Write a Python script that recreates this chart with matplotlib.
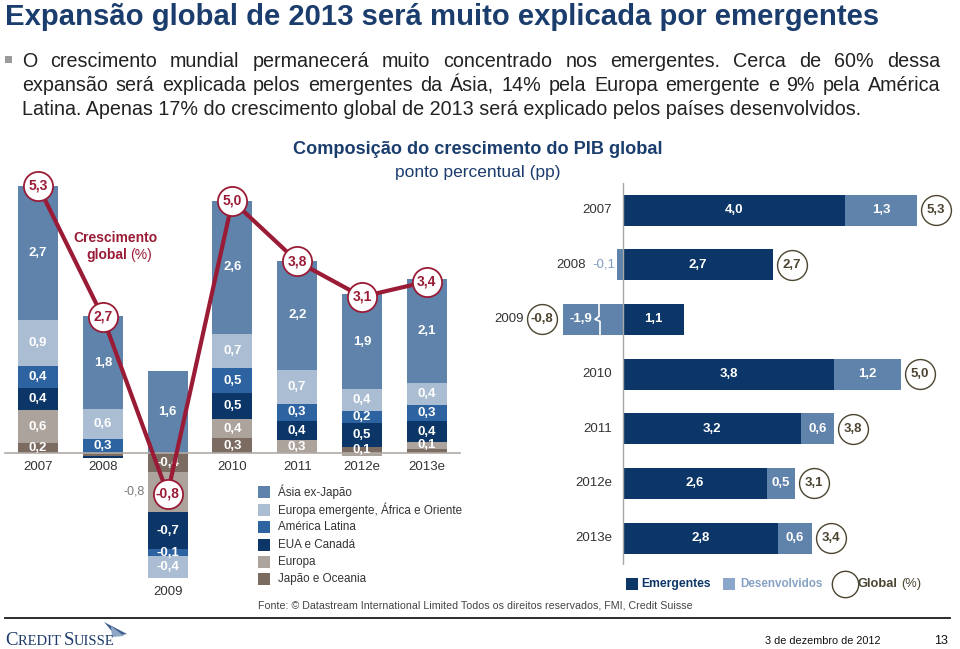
import matplotlib
matplotlib.use('Agg')
import matplotlib.pyplot as plt
from matplotlib.patches import Rectangle, Polygon
from matplotlib.lines import Line2D
from matplotlib import font_manager as fm
import numpy as np

# ---------------- data ----------------
years = ['2007', '2008', '2009', '2010', '2011', '2012e', '2013e']
asia = [2.67, 1.84, 1.63, 2.63, 2.16, 1.88, 2.06]
eur_em = [0.90, 0.58, -0.43, 0.69, 0.67, 0.43, 0.44]
am_lat = [0.44, 0.29, -0.13, 0.48, 0.34, 0.24, 0.32]
eua = [0.44, -0.05, -0.74, 0.52, 0.38, 0.48, 0.40]
europa = [0.64, 0.00, -0.79, 0.38, 0.26, -0.06, 0.14]
japao = [0.21, -0.05, -0.37, 0.30, 0.00, 0.12, 0.09]
global_growth = [5.3, 2.7, -0.8, 5.0, 3.8, 3.1, 3.4]

emergentes = [4.0, 2.7, 1.1, 3.8, 3.2, 2.6, 2.8]
desenvolvidos = [1.3, -0.1, -1.9, 1.2, 0.6, 0.5, 0.6]

series_names = ['Japão e Oceania', 'Europa', 'EUA e Canadá', 'América Latina',
                'Europa emergente, África e Oriente', 'Ásia ex-Japão']
series_vals = [japao, europa, eua, am_lat, eur_em, asia]
series_cols = ['#7b6b60', '#ada39d', '#0b3667', '#2d63a0', '#aabdd2', '#5f83ab']

title = 'Expansão global de 2013 será muito explicada por emergentes'
bullet_lines = [
    'O crescimento mundial permanecerá muito concentrado nos emergentes. Cerca de 60% dessa',
    'expansão será explicada pelos emergentes da Ásia, 14% pela Europa emergente e 9% pela América',
    'Latina. Apenas 17% do crescimento global de 2013 será explicado pelos países desenvolvidos.',
]

# ---------------- setup ----------------
W, H = 960, 649
fig = plt.figure(figsize=(9.6, 6.49), dpi=100)
fig.patch.set_facecolor('white')
renderer = fig.canvas.get_renderer()


def has_font(name):
    try:
        fm.findfont(fm.FontProperties(family=name), fallback_to_default=False)
        return True
    except Exception:
        return False


SANS = [f for f in ['Liberation Sans', 'DejaVu Sans'] if has_font(f)] or ['DejaVu Sans']
SERIF = [f for f in ['Liberation Serif', 'DejaVu Serif'] if has_font(f)] or ['DejaVu Serif']
plt.rcParams['font.family'] = SANS


def fx(px):
    return px / W


def fy(py):
    return 1 - py / H


def ftext(x, y, s, **kw):
    return fig.text(fx(x), fy(y), s, **kw)


def fit_size(s, width_px, size0=12, **kw):
    t = fig.text(0, 0, s, fontsize=size0, **kw)
    w = t.get_window_extent(renderer).width
    t.remove()
    return size0 * width_px / w


def fit_text(x, y, s, width_px, size0=12, **kw):
    t = ftext(x, y, s, fontsize=size0, **kw)
    w = t.get_window_extent(renderer).width
    t.set_fontsize(size0 * width_px / w)
    return t


NAVY_T = '#1b3d6d'
MAROON = '#9a1b36'
OLIVE = '#4b4430'

# ---------------- title and bullet text ----------------
fit_text(5, 25, title, 872, 19, color=NAVY_T, fontweight='bold', va='baseline')

fig.add_artist(Rectangle((fx(5), fy(63)), fx(7), 7 / H, transform=fig.transFigure,
                         facecolor='#9a9a9a', edgecolor='none'))

tmp = ftext(22, 115, bullet_lines[2], fontsize=13, va='baseline', color='#222222')
nat = tmp.get_window_extent(renderer).width
bsize = 13 * 836 / nat
tmp.set_fontsize(bsize)
baselines = [67, 91, 115]
for line, yb in zip(bullet_lines[:2], baselines[:2]):
    words = line.split(' ')
    ts = [ftext(0, yb, w, fontsize=bsize, va='baseline', color='#222222') for w in words]
    ws = [t.get_window_extent(renderer).width for t in ts]
    gap = (940 - 22 - sum(ws)) / (len(words) - 1)
    x = 22
    for t, w in zip(ts, ws):
        t.set_position((fx(x), fy(yb)))
        x += w + gap

# chart title
fit_text(478, 154, 'Composição do crescimento do PIB global', 369, 13,
         color=NAVY_T, fontweight='bold', ha='center', va='baseline')
fit_text(478, 177, 'ponto percentual (pp)', 166, 12,
         color=NAVY_T, ha='center', va='baseline')

# ---------------- left stacked chart ----------------
x0px, scale_x = 38.0, 64.8
zero_py, scale_y = 453.3, 50.5
axL_l, axL_r, axL_t, axL_b = 0, 470, 150, 600
axL = fig.add_axes([fx(axL_l), fy(axL_b), (axL_r - axL_l) / W, (axL_b - axL_t) / H])
axL.set_xlim((axL_l - x0px) / scale_x, (axL_r - x0px) / scale_x)
axL.set_ylim(-(axL_b - zero_py) / scale_y, (zero_py - axL_t) / scale_y)
axL.axis('off')

xs = np.arange(len(years))
bw = 40 / scale_x
pos_b = np.zeros(len(years))
neg_b = np.zeros(len(years))
seg_info = []
for name, vals, col in zip(series_names, series_vals, series_cols):
    v = np.array(vals, dtype=float)
    bottoms = np.where(v >= 0, pos_b, neg_b)
    axL.bar(xs, v, bw, bottom=bottoms, color=col, edgecolor='none', zorder=2)
    for i in range(len(years)):
        seg_info.append((i, bottoms[i] + v[i] / 2, v[i]))
    pos_b = pos_b + np.where(v >= 0, v, 0)
    neg_b = neg_b + np.where(v < 0, v, 0)

for i, c, v in seg_info:
    if abs(v) < 0.1:
        continue
    lab = f'{v:.1f}'.replace('.', ',')
    if abs(c - global_growth[i]) < 0.2:
        axL.text(i - bw / 2 - 3 / scale_x, c, lab, ha='right', va='center',
                 fontsize=9, color='#7a7a7a', zorder=6)
    else:
        axL.text(i, c, lab, ha='center', va='center', fontsize=9.5,
                 color='white', fontweight='bold', zorder=3)

axL.plot([(5 - x0px) / scale_x, (460 - x0px) / scale_x], [0, 0], color='#b0aaa6',
         lw=1.2, zorder=2.5)
axL.plot(xs, global_growth, color=MAROON, lw=3, zorder=4, solid_capstyle='round')
axL.plot(xs, global_growth, 'o', ms=21, mfc='white', mec=MAROON, mew=1.3, zorder=5)
for i, g in enumerate(global_growth):
    axL.text(i, g, f'{g:.1f}'.replace('.', ','), ha='center', va='center',
             fontsize=10, color=MAROON, fontweight='bold', zorder=6)

for i, y in enumerate(years):
    if min(pos_b[i], neg_b[i]) < -1:
        yy = neg_b[i] - 14 / scale_y
    else:
        yy = -14 / scale_y
    axL.text(i, yy, y, ha='center', va='center', fontsize=9.5, color='#333333')

# "Crescimento global (%)"
ftext(115, 242, 'Crescimento', ha='center', va='baseline', fontsize=10,
      fontweight='bold', color=MAROON)
t1 = ftext(86, 259, 'global', ha='left', va='baseline', fontsize=10,
           fontweight='bold', color=MAROON)
ex = t1.get_window_extent(renderer)
fig.text(ex.x1 / W + 3 / W, fy(259), '(%)', ha='left', va='baseline', fontsize=10,
         color=MAROON)

# left legend
leg_fs = fit_size(series_names[4], 184, 9)
leg_y = [492, 510, 527, 545, 562, 579]
for k, (name, col) in enumerate(zip(series_names[::-1], series_cols[::-1])):
    yc = leg_y[k]
    fig.add_artist(Rectangle((fx(258), fy(yc + 6)), 12 / W, 12 / H,
                             transform=fig.transFigure, facecolor=col, edgecolor='none'))
    ftext(278, yc, name, ha='left', va='center', fontsize=leg_fs, color='#333333')

# ---------------- right horizontal chart ----------------
zero_px, sx = 623.0, 55.5
y0py, sy = 210.0, 54.67
axR_l, axR_r, axR_t, axR_b = 563, 960, 183, 565
axR = fig.add_axes([fx(axR_l), fy(axR_b), (axR_r - axR_l) / W, (axR_b - axR_t) / H])
xl = (axR_l - zero_px) / sx
axR.set_xlim(xl, (axR_r - zero_px) / sx)
axR.set_ylim((axR_b - y0py) / sy, (axR_t - y0py) / sy)
axR.axis('off')

EMC, DEVC = '#0b3667', '#5f83ab'
ys = np.arange(len(years))
bh = 31 / sy
em = np.array(emergentes)
dv = np.array(desenvolvidos)
axR.barh(ys, em, bh, color=EMC, edgecolor='none', zorder=2)
dv_left = np.where(dv >= 0, em, 0)
axR.barh(ys, dv, bh, left=dv_left, color=DEVC, edgecolor='none', zorder=2)
axR.axvline(0, color='#a8a8a8', lw=1, zorder=3)

px = 1 / sx  # one pixel in data units
for i in range(len(years)):
    axR.text(em[i] / 2, i, f'{em[i]:.1f}'.replace('.', ','), ha='center', va='center',
             fontsize=9.5, color='white', fontweight='bold', zorder=4)
    dlab = f'{dv[i]:.1f}'.replace('.', ',')
    g = global_growth[i]
    glab = f'{g:.1f}'.replace('.', ',')
    if dv[i] >= 0:
        axR.text(em[i] + dv[i] / 2, i, dlab, ha='center', va='center', fontsize=9.5,
                 color='white', fontweight='bold', zorder=4)
        gx = em[i] + dv[i] + 19 * px
        ylab_x = -11 * px
    elif dv[i] < xl:
        brk = xl + 36 * px
        axR.text((xl + brk) / 2, i, dlab, ha='center', va='center', fontsize=9.5,
                 color='white', fontweight='bold', zorder=4)
        h2 = bh / 2
        axR.plot([brk, brk, brk - 4 * px, brk + 1 * px, brk + 1 * px],
                 [i - h2, i - 3 / sy, i, i + 2 / sy, i + h2],
                 color='white', lw=1.2, zorder=4)
        gx = xl - 21 * px
        ylab_x = gx - 18 * px
    else:
        lx = dv[i] - 14 * px
        axR.text(lx, i, dlab, ha='center', va='center', fontsize=9.5,
                 color='#7f9cc0', zorder=4, clip_on=False)
        gx = em[i] + 19 * px
        ylab_x = lx - 18 * px
    axR.plot([gx], [i], 'o', ms=21.5, mfc='white', mec=OLIVE, mew=1.0,
             zorder=5, clip_on=False)
    axR.text(gx, i, glab, ha='center', va='center', fontsize=9.5, color=OLIVE,
             fontweight='bold', zorder=6, clip_on=False)
    axR.text(ylab_x, i, years[i], ha='right', va='center', fontsize=9.5,
             color='#333333', clip_on=False)

# right legend
ly = 584
fig.add_artist(Rectangle((fx(626), fy(ly + 6)), 12 / W, 12 / H, transform=fig.transFigure,
                         facecolor=EMC, edgecolor='none'))
fit_text(641, ly, 'Emergentes', 70, 10, ha='left', va='center', fontweight='bold',
         color=EMC)
fig.add_artist(Rectangle((fx(723), fy(ly + 6)), 12 / W, 12 / H, transform=fig.transFigure,
                         facecolor='#8aa6c8', edgecolor='none'))
fit_text(740, ly, 'Desenvolvidos', 82, 10, ha='left', va='center', fontweight='bold',
         color='#86a2c4')
fig.add_artist(Line2D([fx(845)], [fy(ly)], marker='o', ms=19, mfc='white', mec=OLIVE,
                      mew=1.0, transform=fig.transFigure))
tg = fit_text(858, ly, 'Global', 40, 10, ha='left', va='center', fontweight='bold',
              color=OLIVE)
ex = tg.get_window_extent(renderer)
fig.text(ex.x1 / W + 3 / W, fy(ly), '(%)', ha='left', va='center',
         fontsize=tg.get_fontsize(), color=OLIVE)

# ---------------- footer ----------------
fit_text(258, 606, 'Fonte: © Datastream International Limited Todos os direitos reservados, FMI, Credit Suisse',
         427, 8.5, ha='left', va='center', color='#444444')
fig.add_artist(Line2D([fx(5), fx(950)], [fy(618), fy(618)], color='#1a1a1a', lw=1.3,
                      transform=fig.transFigure))

# Credit Suisse wordmark (small caps)
cx = 5
parts = [('C', 13.5), ('REDIT ', 10.5), ('S', 13.5), ('UISSE', 10.5)]
for s, fs in parts:
    t = ftext(cx, 645, s, ha='left', va='baseline', fontsize=fs, color='#1d3a6a',
              family=SERIF)
    cx = t.get_window_extent(renderer).x1
fig.add_artist(Polygon([[fx(104), fy(622)], [fx(127), fy(634)], [fx(116), fy(636)]],
                       closed=True, transform=fig.transFigure, facecolor='#3f5f8f',
                       edgecolor='none'))
fig.add_artist(Polygon([[fx(111), fy(626)], [fx(124), fy(636)], [fx(112), fy(637)]],
                       closed=True, transform=fig.transFigure, facecolor='#8fa7c4',
                       edgecolor='none'))

fit_text(765, 641, '3 de dezembro de 2012', 115, 9.5, ha='left', va='center',
         color='#111111')
ftext(948, 641, '13', ha='right', va='center', fontsize=9, color='#111111')

fig.savefig('out.png', dpi=100, facecolor='white')
